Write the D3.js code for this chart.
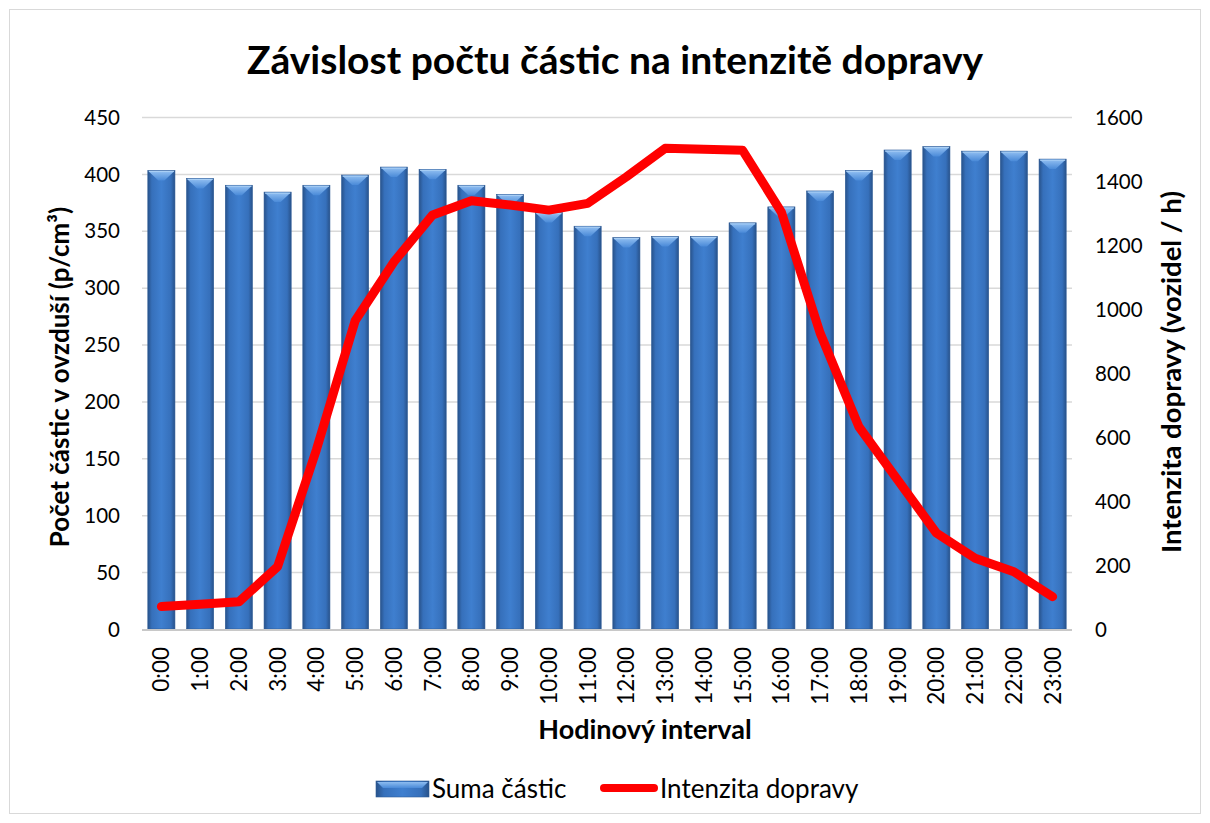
<!DOCTYPE html>
<html>
<head>
<meta charset="utf-8">
<script src="https://cdn.jsdelivr.net/npm/d3@7"></script>
<style>
  body { margin: 0; background: #fff; }
  svg text { font-family: Lato, "Open Sans", sans-serif; fill: #000; }
</style>
</head>
<body>
<svg id="chart" width="1210" height="823"></svg>
<script>
// Data
const hours = ["0:00","1:00","2:00","3:00","4:00","5:00","6:00","7:00","8:00","9:00","10:00","11:00",
               "12:00","13:00","14:00","15:00","16:00","17:00","18:00","19:00","20:00","21:00","22:00","23:00"];
const particles = [403, 396, 390, 384, 390, 399, 406, 404, 390, 382, 366, 354,
                   344, 345, 345, 357, 371, 385, 403, 421, 424, 420, 420, 413];
const traffic = [70, 77, 85, 195, 560, 963, 1147, 1294, 1338, 1325, 1309, 1330,
                 1413, 1502, 1499, 1496, 1303, 925, 632, 466, 300, 221, 179, 101];
const leftTicks = [0, 50, 100, 150, 200, 250, 300, 350, 400, 450];
const rightTicks = [0, 200, 400, 600, 800, 1000, 1200, 1400, 1600];

const svg = d3.select("#chart");
const W = 1210, H = 823;
const plot = { left: 142, right: 1072, top: 117, bottom: 629 };

// chart frame
svg.append("rect")
    .attr("x", 9.5).attr("y", 9.5)
    .attr("width", W - 19).attr("height", H - 19)
    .attr("fill", "#fff").attr("stroke", "#d9d9d9").attr("stroke-width", 1);

// gradients
const defs = svg.append("defs");
const grad = defs.append("linearGradient").attr("id", "barGrad")
    .attr("x1", "0%").attr("x2", "100%").attr("y1", "0%").attr("y2", "0%");
[["0%", "#28528a"], ["15%", "#3670bb"], ["50%", "#3f7fcf"], ["85%", "#3670bb"], ["100%", "#28528a"]]
    .forEach(([o, c]) => grad.append("stop").attr("offset", o).attr("stop-color", c));
const bev = defs.append("linearGradient").attr("id", "bevGrad")
    .attr("x1", "0%").attr("x2", "0%").attr("y1", "0%").attr("y2", "100%");
bev.append("stop").attr("offset", "0%").attr("stop-color", "#8dbcf0");
bev.append("stop").attr("offset", "100%").attr("stop-color", "#4a8ad8");

const x = d3.scaleBand().domain(hours).range([plot.left, plot.right]).paddingInner(0.3).paddingOuter(0.15);
const yL = d3.scaleLinear().domain([0, 450]).range([plot.bottom, plot.top]);
const yR = d3.scaleLinear().domain([0, 1600]).range([plot.bottom, plot.top]);

// gridlines
svg.append("g").selectAll("line")
    .data(leftTicks.slice(1))
    .enter().append("line")
    .attr("x1", plot.left).attr("x2", plot.right)
    .attr("y1", d => yL(d) + 0.5).attr("y2", d => yL(d) + 0.5)
    .attr("stroke", "#d9d9d9").attr("stroke-width", 1.5);

// left axis
const axL = svg.append("g")
    .attr("transform", `translate(${plot.left - 22},0)`)
    .call(d3.axisLeft(yL).tickValues(leftTicks).tickSize(0).tickPadding(0));
axL.select(".domain").remove();
axL.selectAll("text").style("font-size", "20.5px").attr("dy", "0.35em");

// right axis
const axR = svg.append("g")
    .attr("transform", `translate(${plot.right + 23},0)`)
    .call(d3.axisRight(yR).tickValues(rightTicks).tickFormat(d3.format("d")).tickSize(0).tickPadding(0));
axR.select(".domain").remove();
axR.selectAll("text").style("font-size", "20.5px").attr("dy", "0.35em");

// bars
const bars = svg.append("g").selectAll("g.bar")
    .data(hours.map((h, i) => ({ h, v: particles[i] })))
    .enter().append("g").attr("class", "bar");

bars.append("rect")
    .attr("x", d => x(d.h))
    .attr("y", d => yL(d.v))
    .attr("width", x.bandwidth())
    .attr("height", d => yL(0) - yL(d.v))
    .attr("fill", "url(#barGrad)")
    .attr("stroke", "#2c5a96").attr("stroke-width", 0.6);

// bevelled top
bars.append("path")
    .attr("d", d => {
        const x0 = x(d.h), x1 = x0 + x.bandwidth(), y0 = yL(d.v);
        const bw = x.bandwidth(), cx = x0 + bw / 2;
        return `M${x0 + 1},${y0 + 1} L${x1 - 1},${y0 + 1} L${cx + 3},${y0 + 10} L${cx - 3},${y0 + 10} Z`;
    })
    .attr("fill", "url(#bevGrad)");
bars.append("line")
    .attr("x1", d => x(d.h) + 1).attr("x2", d => x(d.h) + x.bandwidth() - 1)
    .attr("y1", d => yL(d.v) + 1).attr("y2", d => yL(d.v) + 1)
    .attr("stroke", "#a9cff5").attr("stroke-width", 1.2);

// bottom axis line
svg.append("line")
    .attr("x1", plot.left).attr("x2", plot.right)
    .attr("y1", plot.bottom + 1).attr("y2", plot.bottom + 1)
    .attr("stroke", "#c8c8c8").attr("stroke-width", 2);

// x labels
const axB = svg.append("g")
    .attr("transform", `translate(0,${plot.bottom + 18})`)
    .call(d3.axisBottom(x).tickSize(0).tickPadding(0));
axB.select(".domain").remove();
axB.selectAll("text")
    .style("font-size", "22.5px")
    .attr("text-anchor", "end")
    .attr("transform", "rotate(-90)")
    .attr("x", 0).attr("y", 0).attr("dy", "0.35em");

// traffic line
const line = d3.line()
    .x((d, i) => x(hours[i]) + x.bandwidth() / 2)
    .y(d => yR(d));
svg.append("path")
    .datum(traffic)
    .attr("d", line)
    .attr("fill", "none")
    .attr("stroke", "#ff0000")
    .attr("stroke-width", 9)
    .attr("stroke-linejoin", "round")
    .attr("stroke-linecap", "round");

// titles
svg.append("text")
    .attr("x", 615).attr("y", 74)
    .attr("text-anchor", "middle")
    .style("font-size", "39px").style("font-weight", "bold")
    .text("Závislost počtu částic na intenzitě dopravy");

svg.append("text")
    .attr("x", 645).attr("y", 739)
    .attr("text-anchor", "middle")
    .style("font-size", "27px").style("font-weight", "bold")
    .text("Hodinový interval");

svg.append("text")
    .attr("transform", "translate(69,377) rotate(-90)")
    .attr("text-anchor", "middle")
    .style("font-size", "26px").style("font-weight", "bold")
    .text("Počet částic v ovzduší (p/cm³)");

svg.append("text")
    .attr("transform", "translate(1181,372) rotate(-90)")
    .attr("text-anchor", "middle")
    .style("font-size", "27.5px").style("font-weight", "bold")
    .text("Intenzita dopravy (vozidel / h)");

// legend
const lg = svg.append("g");
lg.append("rect")
    .attr("x", 376).attr("y", 781).attr("width", 53).attr("height", 16)
    .attr("fill", "url(#barGrad)").attr("stroke", "#2c5a96").attr("stroke-width", 0.6);
lg.append("path")
    .attr("d", "M377,782 L428,782 L422,788 L383,788 Z")
    .attr("fill", "url(#bevGrad)");
lg.append("text")
    .attr("x", 432).attr("y", 798)
    .style("font-size", "26px")
    .text("Suma částic");
lg.append("line")
    .attr("x1", 604).attr("x2", 654).attr("y1", 788).attr("y2", 788)
    .attr("stroke", "#ff0000").attr("stroke-width", 8).attr("stroke-linecap", "round");
lg.append("text")
    .attr("x", 660).attr("y", 798)
    .style("font-size", "26px")
    .text("Intenzita dopravy");
</script>
</body>
</html>
